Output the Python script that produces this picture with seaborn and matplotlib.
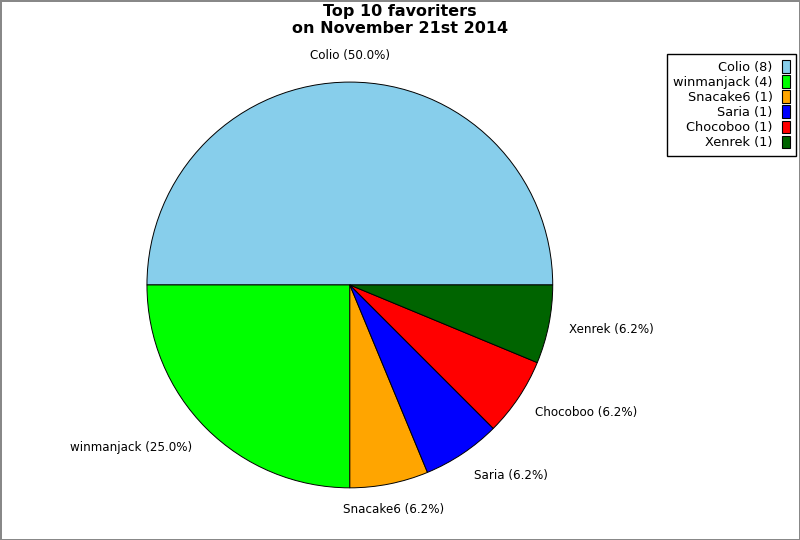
import matplotlib
matplotlib.use('Agg')
import matplotlib.pyplot as plt
from matplotlib.patches import Patch
import seaborn as sns
import numpy as np

# datos
nombres = ['Colio', 'winmanjack', 'Snacake6', 'Saria', 'Chocoboo', 'Xenrek']
conteos = [8, 4, 1, 1, 1, 1]
colores = ['#87CEEB', '#00FF00', '#FFA500', '#0000FF', '#FF0000', '#006400']
titulo = 'Top 10 favoriters\non November 21st 2014'

sns.set_style('white')
plt.rcParams['font.family'] = ['DejaVu Sans']
plt.rcParams['text.color'] = 'black'

total = sum(conteos)
etiquetas = [f'{n} ({c / total * 100:.1f}%)' for n, c in zip(nombres, conteos)]

fig = plt.figure(figsize=(8, 5.4), dpi=100)
fig.patch.set_edgecolor('#888888')
fig.patch.set_linewidth(2)

ax = fig.add_axes([0.1203, 0.0023, 0.634, 0.94])
wedges, textos = ax.pie(conteos, labels=etiquetas, colors=colores, startangle=0,
                        counterclock=True, labeldistance=1.1,
                        wedgeprops=dict(edgecolor='black', linewidth=0.7),
                        textprops=dict(fontsize=8.6, color='black'))
ax.set_xlim(-1.25, 1.25)
ax.set_ylim(-1.25, 1.25)
ax.set_aspect('equal')

# reubicar etiquetas: centradas arriba/abajo, algo más alejadas en vertical
for w, t in zip(wedges, textos):
    ang = np.deg2rad((w.theta1 + w.theta2) / 2)
    c, s = np.cos(ang), np.sin(ang)
    t.set_position((1.1 * c, 1.13 * s))
    if abs(c) < 0.3:
        t.set_ha('center')
    elif c > 0:
        t.set_ha('left')
    else:
        t.set_ha('right')

fig.suptitle(titulo, fontsize=11.5, fontweight='bold', y=0.993, linespacing=1.2,
             color='black')

handles = [Patch(facecolor=col, edgecolor='black', linewidth=0.8) for col in colores]
leyenda = [f'{n} ({c})' for n, c in zip(nombres, conteos)]
leg = fig.legend(handles, leyenda, loc='upper right', bbox_to_anchor=(0.995, 0.9),
                 markerfirst=False, fontsize=9.3, frameon=True, fancybox=False,
                 framealpha=1, edgecolor='black', handlelength=0.6, handleheight=1.1,
                 handletextpad=0.7, labelspacing=0.11, borderpad=0.5, borderaxespad=0)
leg.get_frame().set_linewidth(1)
for t in leg.get_texts():
    t.set_ha('right')
    t.set_color('black')

fig.savefig('out.png', dpi=100, edgecolor=fig.get_edgecolor())
plt.close()
